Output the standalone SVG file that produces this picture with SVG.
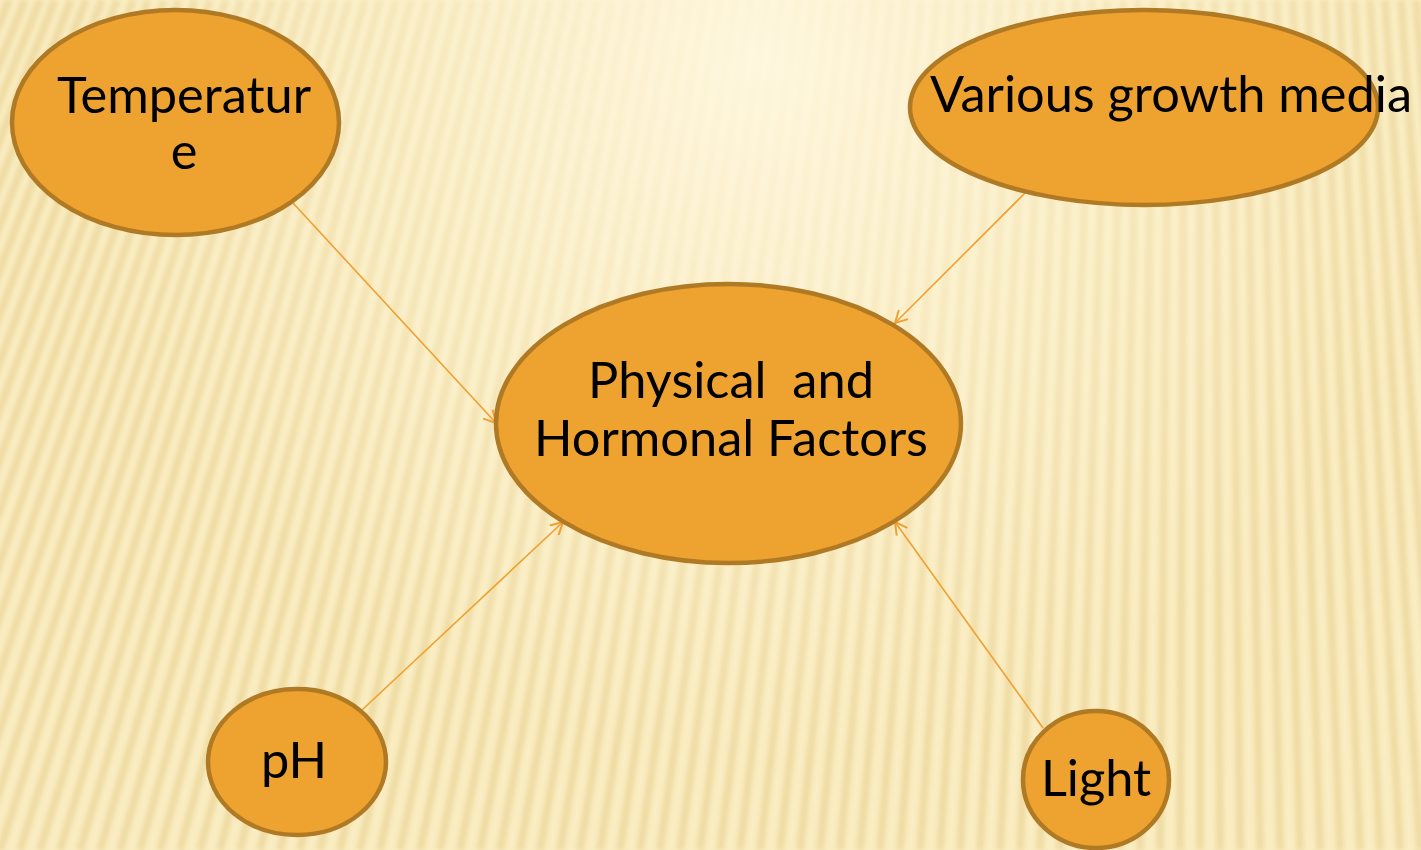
<svg xmlns="http://www.w3.org/2000/svg" width="1421" height="850" viewBox="0 0 1421 850">
<style>
.node{fill:#EEA330;stroke:#B07A25;stroke-width:4.5}
.lbl{font-family:Lato,"Liberation Sans",sans-serif;font-size:50.5px;fill:#000;text-anchor:middle}
.conn{stroke:#F0A030;stroke-width:1.6;fill:none;marker-end:url(#arr)}
.stripes{stroke:#E4CB86;stroke-width:8;opacity:0.5;fill:none}
</style>
<defs>
<marker id="arr" markerWidth="16" markerHeight="16" refX="13" refY="8" orient="auto" markerUnits="userSpaceOnUse">
<path d="M1,1.5 L13,8 L1,14.5" fill="none" stroke="#F0A030" stroke-width="2"/>
</marker>
<radialGradient id="glow" cx="760" cy="60" r="700" gradientUnits="userSpaceOnUse">
<stop offset="0" stop-color="#FFF8E0" stop-opacity="0.95"/>
<stop offset="0.5" stop-color="#FFF6DA" stop-opacity="0.45"/>
<stop offset="1" stop-color="#FFF6DA" stop-opacity="0"/>
</radialGradient>
<filter id="soft"><feGaussianBlur stdDeviation="2"/></filter>
</defs>
<rect width="1421" height="850" fill="#FAEDC2"/>
<path class="stripes" filter="url(#soft)" d="M9 0L-340 850M25 0L-320 850M40 0L-300 850M55 0L-280 850M71 0L-260 850M86 0L-240 850M102 0L-220 850M117 0L-200 850M133 0L-180 850M148 0L-160 850M164 0L-140 850M179 0L-120 850M195 0L-100 850M210 0L-80 850M226 0L-60 850M241 0L-40 850M257 0L-20 850M272 0L0 850M287 0L20 850M303 0L40 850M318 0L60 850M334 0L80 850M349 0L100 850M365 0L120 850M380 0L140 850M396 0L160 850M411 0L180 850M427 0L200 850M442 0L220 850M458 0L240 850M473 0L260 850M488 0L280 850M504 0L300 850M519 0L320 850M535 0L340 850M550 0L360 850M566 0L380 850M581 0L400 850M597 0L420 850M612 0L440 850M628 0L460 850M643 0L480 850M659 0L500 850M674 0L520 850M690 0L540 850M705 0L560 850M720 0L580 850M736 0L600 850M751 0L620 850M767 0L640 850M782 0L660 850M798 0L680 850M813 0L700 850M829 0L720 850M844 0L740 850M860 0L760 850M875 0L780 850M891 0L800 850M906 0L820 850M921 0L840 850M937 0L860 850M952 0L880 850M968 0L900 850M983 0L920 850M999 0L940 850M1014 0L960 850M1030 0L980 850M1045 0L1000 850M1061 0L1020 850M1076 0L1040 850M1092 0L1060 850M1107 0L1080 850M1123 0L1100 850M1138 0L1120 850M1153 0L1140 850M1169 0L1160 850M1184 0L1180 850M1200 0L1200 850M1215 0L1220 850M1231 0L1240 850M1246 0L1260 850M1262 0L1280 850M1277 0L1300 850M1293 0L1320 850M1308 0L1340 850M1324 0L1360 850M1339 0L1380 850M1354 0L1400 850M1370 0L1420 850M1385 0L1440 850M1401 0L1460 850M1416 0L1480 850"/>
<rect width="1421" height="850" fill="url(#glow)"/>
<g id="connectors">
<line class="conn" x1="293" y1="203" x2="496" y2="423"/>
<line class="conn" x1="1025" y1="193" x2="895" y2="323"/>
<line class="conn" x1="362" y1="710" x2="563" y2="522"/>
<line class="conn" x1="1043" y1="728" x2="895" y2="522"/>
</g>
<g id="temperature">
<ellipse class="node" cx="175.5" cy="122.5" rx="163.5" ry="112.5"/>
<text class="lbl" x="184" y="113">Temperatur</text>
<text class="lbl" x="184" y="169">e</text>
</g>
<g id="media">
<ellipse class="node" cx="1144" cy="107.5" rx="234" ry="97.5"/>
<text class="lbl" x="1171" y="112">Various growth media</text>
</g>
<g id="center">
<ellipse class="node" cx="728.5" cy="423.5" rx="232.5" ry="139.5"/>
<text class="lbl" x="731" y="398" xml:space="preserve">Physical  and</text>
<text class="lbl" x="731" y="456">Hormonal Factors</text>
</g>
<g id="ph">
<ellipse class="node" cx="297" cy="762" rx="89" ry="73"/>
<text class="lbl" x="294" y="778">pH</text>
</g>
<g id="light">
<ellipse class="node" cx="1096" cy="779.5" rx="73" ry="68.5"/>
<text class="lbl" x="1096" y="796">Light</text>
</g>
</svg>
